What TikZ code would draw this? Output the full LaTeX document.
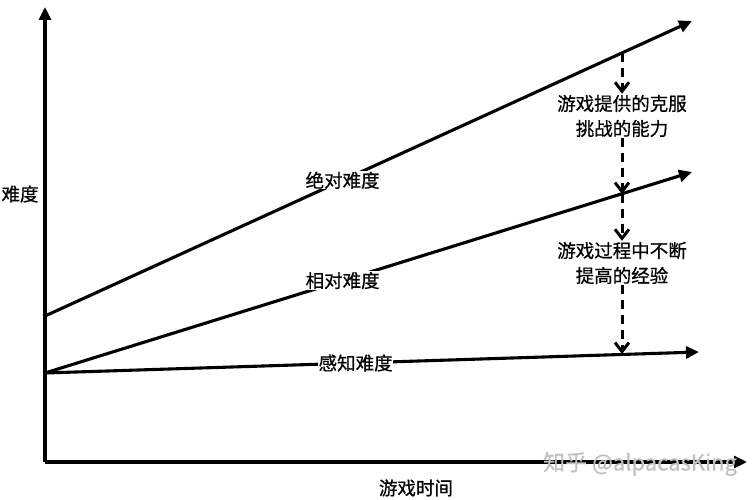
\documentclass[tikz,border=0pt]{standalone}
\usepackage{fontspec}
\setmainfont[FakeBold=0.6]{Noto Sans CJK SC}
\usetikzlibrary{arrows.meta}
\begin{document}
\begin{tikzpicture}[x=1pt,y=-1pt,
  axis/.style={line width=3.1pt,-{Triangle[length=13pt,width=12pt]}},
  curve/.style={line width=3.1pt,-{Triangle[length=13pt,width=12pt]}},
  dasharrow/.style={line width=3pt,dash pattern=on 9pt off 6pt,-{Straight Barb[length=9pt,width=14pt,line width=3pt]}},
  lbl/.style={font=\fontsize{18.5}{22}\selectfont,fill=white,inner sep=0.5pt},
  txt/.style={font=\fontsize{18.5}{25}\selectfont,align=center,inner sep=1pt},
  wm/.style={font=\fontsize{22}{26}\selectfont,text=black!25}]
\useasboundingbox (0,0) rectangle (756,500);
\coordinate (O) at (45,462);
\coordinate (ytop) at (45,7);
\coordinate (xend) at (747,462);
\coordinate (a0) at (45,316);
\coordinate (a1) at (692,21);
\coordinate (b0) at (45,373);
\coordinate (b1) at (692,172);
\coordinate (c1) at (699,352);
\coordinate (d1) at (622,53);
\coordinate (d2) at (622,194);
\coordinate (d3) at (622,354);
\draw[axis] (O) -- (ytop);
\draw[axis] (O) -- (xend);
\draw[curve] (a0) -- (a1) node[lbl,pos=0.46] (la) {绝对难度};
\draw[curve] (b0) -- (b1) node[lbl,pos=0.46] (lb) {相对难度};
\draw[curve] (b0) -- (c1) node[lbl,pos=0.475] (lc) {感知难度};
\node[txt,fill=white] (t1) at (622,116) {游戏提供的克服\\挑战的能力};
\node[txt,fill=white] (t2) at (622,263) {游戏过程中不断\\提高的经验};
\draw[dasharrow] (d1) -- (t1.north);
\draw[dasharrow] (t1.south) -- (d2);
\draw[dasharrow] (d2) -- (t2.north);
\draw[dasharrow] (t2.south) -- (d3);
\node[txt] (ylab) at (20,194) {难度};
\node[txt] (xlab) at (416,488) {游戏时间};
\node[wm] (wmk) at (640,464) {知乎 @alpacasKing};
\end{tikzpicture}
\end{document}
